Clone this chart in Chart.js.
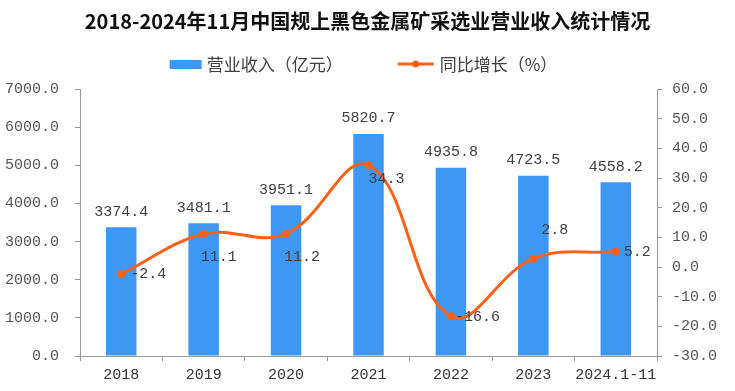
<!DOCTYPE html>
<html>
<head>
<meta charset="utf-8">
<script src="https://cdn.jsdelivr.net/npm/chart.js@4"></script>
<style>
  html, body { margin: 0; padding: 0; background: #fff; }
  #wrap { width: 735px; height: 391px; }
</style>
</head>
<body>
<div id="wrap"><canvas id="chart" width="735" height="391"></canvas></div>
<script>
// data
const years = ["2018", "2019", "2020", "2021", "2022", "2023", "2024.1-11"];
const revenue = [3374.4, 3481.1, 3951.1, 5820.7, 4935.8, 4723.5, 4558.2];
const growth = [-2.4, 11.1, 11.2, 34.3, -16.6, 2.8, 5.2];
const revenueName = "营业收入（亿元）";
const growthName = "同比增长（%）";
const titleText = "2018-2024年11月中国规上黑色金属矿采选业营业收入统计情况";

const BLUE = "rgb(60, 152, 244)";
const ORANGE = "rgb(255, 96, 24)";
const NUM_FONT = "'Liberation Mono', 'DejaVu Sans Mono', monospace";
const CJK_FONT = "'Noto Sans CJK SC', sans-serif";

// legend drawn by hand, the built-in one can't do the wide gap without
// pushing the plot down
const legendPlugin = {
    id: "customLegend",
    afterDraw(chart) {
        const ctx = chart.ctx;
        const y = 64;
        ctx.save();
        ctx.font = "17px " + CJK_FONT;
        let w1 = ctx.measureText(revenueName).width;
        let w2 = ctx.measureText(growthName).width;
        let total = 32 + 5 + w1 + 55 + 36 + 6 + w2;
        let x = chart.width / 2 - total / 2 - 4;
        ctx.fillStyle = BLUE;
        ctx.fillRect(x, y - 4, 32, 9);
        x += 37;
        ctx.fillStyle = "#404040";
        ctx.textBaseline = "middle";
        ctx.textAlign = "left";
        ctx.fillText(revenueName, x, y + 1);
        x += w1 + 55;
        ctx.strokeStyle = ORANGE;
        ctx.lineWidth = 3;
        ctx.beginPath(); ctx.moveTo(x, y); ctx.lineTo(x + 36, y); ctx.stroke();
        ctx.fillStyle = ORANGE;
        ctx.beginPath(); ctx.arc(x + 18, y, 3.5, 0, Math.PI * 2); ctx.fill();
        x += 42;
        ctx.fillStyle = "#404040";
        ctx.fillText(growthName, x, y + 1);
        ctx.restore();
    }
};

// value labels for bars and line points
const labelPlugin = {
    id: "valueLabels",
    afterDatasetsDraw(chart) {
        const ctx = chart.ctx;
        ctx.save();
        ctx.font = "15px " + NUM_FONT;
        ctx.fillStyle = "#404040";
        let bars = chart.getDatasetMeta(0).data;
        ctx.textAlign = "center";
        ctx.textBaseline = "bottom";
        bars.forEach((b, i) => {
            ctx.fillText(revenue[i].toFixed(1), b.x, b.y - 8);
        });
        // offsets of growth labels from their points
        const off = [[9, 0], [-3, 23], [-2, 23], [0, 14], [4, 1], [8, -29], [8, 0]];
        let pts = chart.getDatasetMeta(1).data;
        ctx.textAlign = "left";
        ctx.textBaseline = "middle";
        pts.forEach((p, i) => {
            ctx.fillText(growth[i].toFixed(1), p.x + off[i][0], p.y + off[i][1]);
        });
        ctx.restore();
    }
};

new Chart(document.getElementById("chart").getContext("2d"), {
    data: {
        labels: years,
        datasets: [{
            type: "bar",
            label: revenueName,
            data: revenue,
            yAxisID: "y",
            backgroundColor: BLUE,
            barPercentage: 0.37,
            categoryPercentage: 1,
            order: 1
        }, {
            type: "line",
            label: growthName,
            data: growth,
            yAxisID: "y1",
            borderColor: ORANGE,
            backgroundColor: ORANGE,
            borderWidth: 3,
            pointRadius: 4,
            pointBorderWidth: 0,
            tension: 0.4,
            order: 0
        }]
    },
    options: {
        responsive: false,
        animation: false,
        layout: { padding: 0 },
        plugins: {
            title: {
                display: true,
                text: titleText,
                color: "#111",
                font: { family: CJK_FONT, size: 20, weight: "bold", lineHeight: 1.2 },
                padding: { top: 9, bottom: 56 }
            },
            legend: { display: false },
            tooltip: { enabled: false }
        },
        scales: {
            x: {
                offset: true,
                grid: { display: true, offset: true, drawOnChartArea: false, drawTicks: true, tickLength: 5, color: "#999" },
                border: { display: true, color: "#999" },
                ticks: {
                    color: "#333",
                    font: { family: NUM_FONT, size: 15 },
                    padding: 5,
                    maxRotation: 0,
                    minRotation: 0,
                    autoSkip: false
                },
                afterFit(s) { s.height = 35; }
            },
            y: {
                position: "left",
                min: 0, max: 7000,
                grid: { drawOnChartArea: false, drawTicks: true, tickLength: 5, color: "#999" },
                border: { display: true, color: "#999" },
                ticks: {
                    stepSize: 1000,
                    color: "#555",
                    padding: 16,
                    font: { family: NUM_FONT, size: 15 },
                    callback: v => v.toFixed(1)
                },
                afterFit(s) { s.width = 80; }
            },
            y1: {
                position: "right",
                min: -30, max: 60,
                grid: { drawOnChartArea: false, drawTicks: true, tickLength: 5, color: "#999" },
                border: { display: true, color: "#999" },
                ticks: {
                    stepSize: 10,
                    color: "#555",
                    padding: 10,
                    font: { family: NUM_FONT, size: 15 },
                    callback: v => v.toFixed(1)
                },
                afterFit(s) { s.width = 78; }
            }
        }
    },
    plugins: [labelPlugin, legendPlugin]
});
</script>
</body>
</html>
